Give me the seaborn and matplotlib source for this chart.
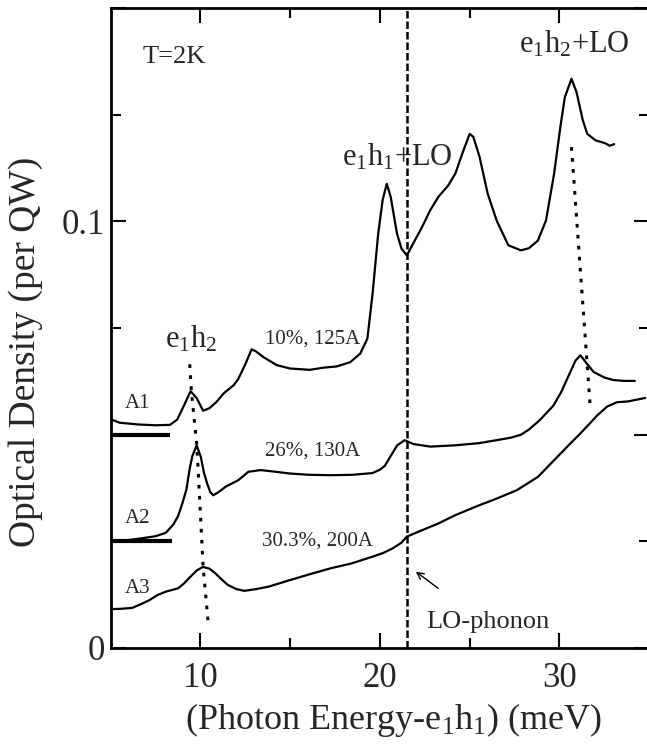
import numpy as np
import matplotlib
matplotlib.use("Agg")
import matplotlib.pyplot as plt
import seaborn as sns

# spectra: photon energy - e1h1 (meV), optical density per QW
a1_mev = [5.0, 5.5, 6.5, 7.5, 8.3, 8.7, 9.1, 9.45, 9.8, 10.15, 10.5, 10.9, 11.3, 11.85,
          12.1, 12.5, 12.85, 13.1, 13.5, 14.25, 15.0, 16.1, 16.85, 17.6, 18.35, 18.9,
          19.3, 19.6, 19.9, 20.15, 20.38, 20.6, 20.95, 21.2, 21.5, 21.85, 22.35, 22.8,
          23.25, 23.8, 24.2, 24.65, 25.0, 25.2, 25.55, 26.0, 26.5, 27.15, 27.85, 28.3,
          28.8, 29.25, 29.7, 30.05, 30.3, 30.67, 30.95, 31.3, 31.55, 32.0, 32.55, 32.8,
          33.05]
a1_od = [0.0536, 0.0528, 0.0524, 0.0522, 0.0523, 0.0535, 0.0570, 0.0602, 0.0585, 0.0556,
         0.0562, 0.0577, 0.0597, 0.0616, 0.0630, 0.0665, 0.0700, 0.0695, 0.0682, 0.0663,
         0.0655, 0.0652, 0.0657, 0.0660, 0.0670, 0.0690, 0.0725, 0.0835, 0.0970, 0.1050,
         0.1088, 0.1057, 0.0971, 0.0936, 0.0920, 0.0948, 0.0987, 0.1026, 0.1057, 0.1084,
         0.1112, 0.1166, 0.1205, 0.1198, 0.1151, 0.1065, 0.1002, 0.0944, 0.0932, 0.0937,
         0.0955, 0.1002, 0.1111, 0.1221, 0.1291, 0.1334, 0.1303, 0.1237, 0.1205, 0.1190,
         0.1183, 0.1177, 0.1181]

a2_mev = [5.0, 5.8, 6.7, 7.5, 8.07, 8.5, 8.76, 9.0, 9.22, 9.4, 9.55, 9.79, 10.02, 10.2,
          10.37, 10.55, 10.71, 11.0, 11.4, 12.1, 12.67, 13.35, 14.2, 14.97, 16.0, 17.27,
          18.5, 19.58, 20.0, 20.27, 20.6, 20.96, 21.37, 21.87, 22.8, 24.18, 25.5, 26.49,
          27.3, 27.86, 28.3, 28.9, 29.66, 30.1, 30.4, 30.9, 31.17, 31.5, 31.9, 32.5, 33.0,
          33.6, 34.2]
a2_od = [0.0249, 0.0252, 0.0257, 0.0262, 0.0270, 0.0290, 0.0310, 0.0340, 0.0372, 0.0420,
         0.0450, 0.0475, 0.0448, 0.0410, 0.0386, 0.0365, 0.0358, 0.0365, 0.0378, 0.0393,
         0.0413, 0.0417, 0.0413, 0.0409, 0.0406, 0.0405, 0.0406, 0.0410, 0.0418, 0.0427,
         0.0450, 0.0475, 0.0487, 0.0478, 0.0472, 0.0475, 0.0480, 0.0487, 0.0493, 0.0500,
         0.0512, 0.0534, 0.0568, 0.0600, 0.0628, 0.0674, 0.0686, 0.0668, 0.0647, 0.0634,
         0.0628, 0.0626, 0.0626]

a3_mev = [5.0, 5.6, 6.2, 6.7, 7.15, 7.6, 8.07, 8.76, 9.1, 9.44, 9.8, 10.14, 10.5, 10.83,
          11.2, 11.52, 12.0, 12.44, 13.1, 13.82, 14.97, 16.1, 17.27, 18.4, 19.58, 20.2,
          20.73, 21.2, 21.5, 22.34, 23.26, 24.18, 25.32, 26.49, 27.63, 28.8, 29.7, 30.6,
          31.1, 31.55, 32.1, 32.66, 33.2, 33.84, 34.3, 34.77]
a3_od = [0.0091, 0.0092, 0.0094, 0.0103, 0.0112, 0.0124, 0.0132, 0.0140, 0.0152, 0.0167,
         0.0182, 0.0190, 0.0186, 0.0175, 0.0160, 0.0148, 0.0138, 0.0134, 0.0138, 0.0144,
         0.0159, 0.0173, 0.0187, 0.0198, 0.0214, 0.0223, 0.0234, 0.0247, 0.0261, 0.0276,
         0.0292, 0.0311, 0.0331, 0.0350, 0.0370, 0.0401, 0.0440, 0.0479, 0.0500, 0.0520,
         0.0545, 0.0566, 0.0576, 0.0578, 0.0582, 0.0586]

# guide lines through the e1h2 and e1h2+LO peaks
e1h2_mev = [9.4, 9.5, 9.8, 10.15, 10.45]
e1h2_od = [0.0665, 0.0600, 0.0475, 0.0190, 0.0050]
e1h2lo_mev = [30.67, 31.72]
e1h2lo_od = [0.1174, 0.0562]
lo_phonon = 21.5

# zero-level markers of the offset spectra A1, A2
zero_levels = [0.05, 0.025]
zero_ends = [8.3, 8.4]

sns.set_theme(style="ticks")
plt.rcParams["font.family"] = ["Liberation Serif", "DejaVu Serif"]
plt.rcParams["mathtext.fontset"] = "custom"
plt.rcParams["mathtext.rm"] = "Liberation Serif"
plt.rcParams["mathtext.it"] = "Liberation Serif:italic"

fig = plt.figure(figsize=(6.47, 7.49), dpi=100)
ax = fig.add_axes([110.7 / 647, 1 - 648 / 749, 538.5 / 647, 640 / 749])

for xs, ys in [(a1_mev, a1_od), (a2_mev, a2_od), (a3_mev, a3_od)]:
    sns.lineplot(x=xs, y=ys, ax=ax, color="black", linewidth=1.6)

ax.plot(e1h2_mev, e1h2_od, color="black", lw=2.2, ls=(0, (1.2, 2.4)))
ax.plot(e1h2lo_mev, e1h2lo_od, color="black", lw=2.2, ls=(0, (1.2, 2.4)))
ax.axvline(lo_phonon, color="black", lw=1.8, ls=(0, (3, 1.2)))
for lev, end in zip(zero_levels, zero_ends):
    ax.plot([5, end], [lev, lev], color="black", lw=3, solid_capstyle="butt")

ax.set_xlim(5, 35)
ax.set_ylim(0, 0.15)
ax.set_xticks([10, 20, 30])
ax.set_xticks([15, 25], minor=True)
ax.set_yticks([0, 0.05, 0.1, 0.15])
ax.set_yticklabels(["0", "", "0.1", ""])
ax.set_yticks([0.025, 0.075, 0.125], minor=True)
ax.tick_params(which="both", direction="in", top=True, right=True, width=1.5,
               color="black")
ax.tick_params(which="major", length=11)
ax.tick_params(which="minor", length=7)
ax.tick_params(axis="x", labelsize=25, pad=10)
ax.tick_params(axis="y", labelsize=25, pad=4)
for sp in ax.spines.values():
    sp.set_linewidth(2)
    sp.set_color("black")

ax.set_xlabel(r"(Photon Energy-e$_{\rm 1}$h$_{\rm 1}$) (meV)", fontsize=26)
ax.xaxis.set_label_coords(0.526, -0.083)
ax.set_ylabel("Optical Density (per QW)", fontsize=27)
ax.yaxis.set_label_coords(-0.125, 0.4625)

big = 22
ax.text(6.77, 0.1372, "T=2K", fontsize=19)
ax.text(27.72, 0.1396, r"e$_{\rm 1}$h$_{\rm 2}$+LO", fontsize=big)
ax.text(17.86, 0.1131, r"e$_{\rm 1}$h$_{\rm 1}$+LO", fontsize=big)
ax.text(8.0, 0.0705, r"e$_{\rm 1}$h$_{\rm 2}$", fontsize=big)
ax.text(13.62, 0.0714, "10%, 125A", fontsize=15)
ax.text(13.62, 0.0452, "26%, 130A", fontsize=15)
ax.text(13.45, 0.0241, "30.3%, 200A", fontsize=15)
ax.text(5.77, 0.0562, "A1", fontsize=15)
ax.text(5.77, 0.0293, "A2", fontsize=15)
ax.text(5.77, 0.0129, "A3", fontsize=15)
ax.text(22.57, 0.0047, "LO-phonon", fontsize=19)
ax.annotate("", xy=(21.87, 0.0183), xytext=(23.37, 0.0136),
            arrowprops=dict(arrowstyle="->", color="black", lw=1.0))

fig.savefig("out.png", dpi=100, facecolor="white")
